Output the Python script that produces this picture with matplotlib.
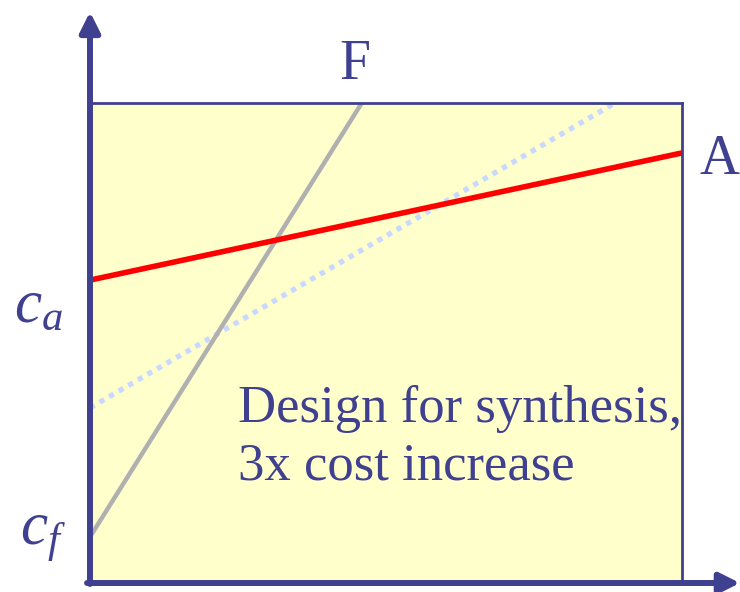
import matplotlib.pyplot as plt

plt.rcParams['mathtext.fontset'] = 'custom'
plt.rcParams['mathtext.it'] = 'Liberation Serif:italic'
plt.rcParams['mathtext.rm'] = 'Liberation Serif'

navy = "#404090"

# line endpoints in axes units (0..1)
red_x = [0.0, 1.0]
red_y = [0.631, 0.896]
gray_x = [0.0, 0.459]
gray_y = [0.096, 1.0]
dot_x = [0.0, 0.887]
dot_y = [0.365, 1.0]

fig = plt.figure(figsize=(7.4, 5.92), dpi=100)
ax = fig.add_axes([90/740, 9/592, 592/740, 480/592])
ax.set_xlim(0, 1)
ax.set_ylim(0, 1)
ax.set_facecolor("#FFFFCC")
ax.set_xticks([])
ax.set_yticks([])
for s in ["top", "right"]:
    ax.spines[s].set_color(navy)
    ax.spines[s].set_linewidth(2)
for s in ["left", "bottom"]:
    ax.spines[s].set_visible(False)

ax.plot(dot_x, dot_y, color="#C8D8FF", lw=3.8, linestyle=(0, (1.0, 1.1)))
ax.plot(gray_x, gray_y, color="#B0B0B0", lw=3.2)
ax.plot(red_x, red_y, color="#FF0000", lw=4)

# axis arrows
ax.annotate("", xy=(0, 1.19), xytext=(0, -0.002), xycoords="axes fraction",
            arrowprops=dict(arrowstyle="-|>,head_length=0.6,head_width=0.3", color=navy,
                            lw=4.3, shrinkA=0, shrinkB=0, mutation_scale=20))
ax.annotate("", xy=(1.098, 0), xytext=(-0.005, 0), xycoords="axes fraction",
            arrowprops=dict(arrowstyle="-|>,head_length=0.6,head_width=0.3", color=navy,
                            lw=4.3, shrinkA=0, shrinkB=0, mutation_scale=20))

font = "Liberation Serif"
fig.text(355/740, 1 - 65/592, "F", fontsize=40, family=font, color=navy, ha="center", va="center")
fig.text(720/740, 1 - 160/592, "A", fontsize=40, family=font, color=navy, ha="center", va="center")
fig.text(38/740, 1 - 305/592, r"$c_a$", fontsize=44, color=navy, ha="center", va="center")
fig.text(43/740, 1 - 535/592, r"$c_f$", fontsize=44, color=navy, ha="center", va="center")
fig.text(238/740, 1 - 438/592, "Design for synthesis,\n3x cost increase", fontsize=38,
         family=font, color=navy, ha="left", va="center", linespacing=1.25)

fig.savefig("out.png", dpi=100)
